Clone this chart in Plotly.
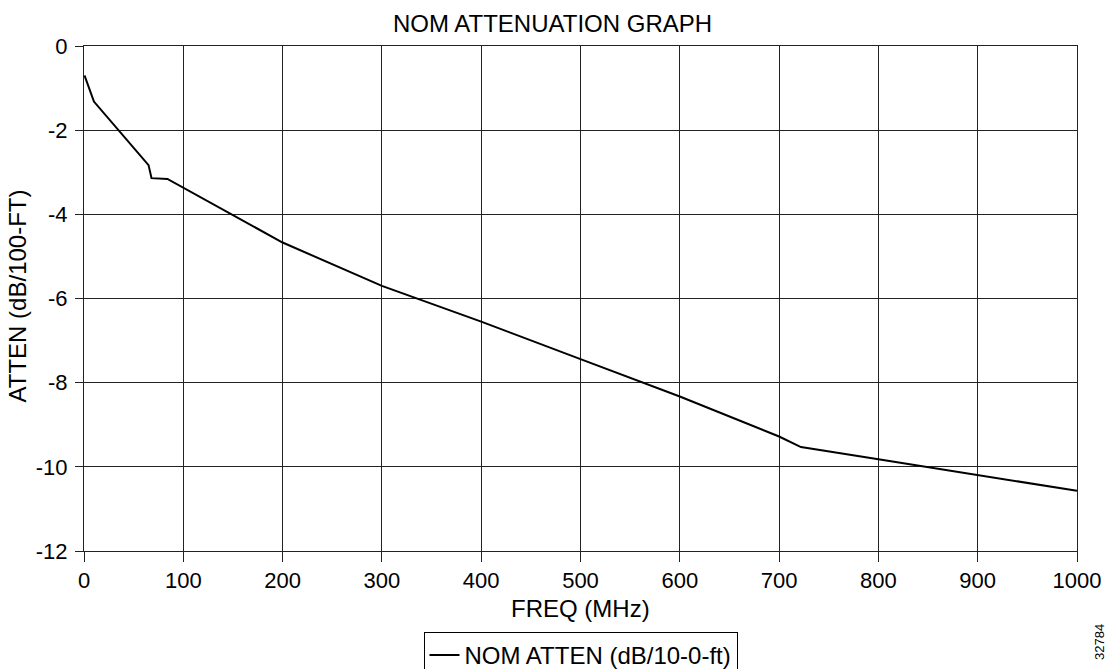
import plotly.graph_objects as go

freq_mhz = [0.5, 10, 65, 68, 84, 200, 300, 400, 500, 600, 700, 722, 800, 900, 1000]
atten_db = [-0.70, -1.32, -2.83, -3.14, -3.16, -4.67, -5.70, -6.55, -7.44, -8.33, -9.28, -9.53, -9.82, -10.19, -10.57]
x_ticks = [0, 100, 200, 300, 400, 500, 600, 700, 800, 900, 1000]
y_ticks = [0, -2, -4, -6, -8, -10, -12]

FONT = "Liberation Sans, Arial, sans-serif"

fig = go.Figure()
fig.add_trace(go.Scatter(
    x=freq_mhz, y=atten_db, mode="lines",
    line=dict(color="black", width=2),
    name="NOM ATTEN (dB/10-0-ft)",
    showlegend=True,
))

axis_common = dict(
    showgrid=True, gridcolor="#222", gridwidth=1,
    showline=True, linecolor="#222", linewidth=1, mirror=True,
    ticks="outside", tickcolor="#222",
    zeroline=False, automargin=False,
    tickfont=dict(family=FONT, size=22, color="black"),
)

fig.update_xaxes(range=[0, 1000], tickvals=x_ticks, ticktext=[str(v) for v in x_ticks],
                 ticklen=10, ticklabelstandoff=0, **axis_common)
fig.update_yaxes(range=[-12, 0], tickvals=y_ticks, ticktext=[str(v) for v in y_ticks],
                 ticklen=8, ticklabelstandoff=3, **axis_common)

fig.update_layout(
    width=1107, height=669,
    margin=dict(l=84, r=30, t=46, b=118),
    paper_bgcolor="white", plot_bgcolor="white",
    title=dict(text="NOM ATTENUATION GRAPH", xref="container", x=0.4991, xanchor="center",
               yref="container", y=0.965, yanchor="middle",
               font=dict(family=FONT, size=24, color="black")),
    font=dict(family=FONT, color="black"),
    legend=dict(orientation="h", xref="paper", x=0.5, xanchor="center",
                yref="container", y=0.0553, yanchor="top",
                bordercolor="black", borderwidth=1, bgcolor="white",
                font=dict(family=FONT, size=24, color="black")),
    showlegend=True,
)

# axis titles
fig.add_annotation(text="FREQ (MHz)", xref="paper", yref="paper", x=0.5, y=-0.113,
                   showarrow=False, xanchor="center", yanchor="middle",
                   font=dict(family=FONT, size=24, color="black"))
fig.add_annotation(text="ATTEN (dB/100-FT)", xref="paper", yref="paper", x=-0.0665, y=0.506,
                   textangle=-90, showarrow=False, xanchor="center", yanchor="middle",
                   font=dict(family=FONT, size=24, color="black"))

fig.add_annotation(text="32784", xref="paper", yref="paper", x=1.0232, y=-0.18,
                   textangle=-90, showarrow=False, xanchor="center", yanchor="middle",
                   font=dict(family=FONT, size=13, color="black"))

fig.write_html("out.html", config={"displayModeBar": False},
               post_script="document.body.style.margin='0';document.body.style.overflow='hidden';")
